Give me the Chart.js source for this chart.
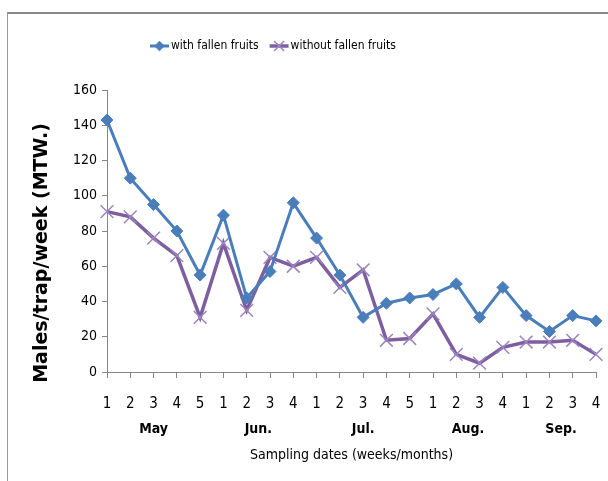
<!DOCTYPE html>
<html>
<head>
<meta charset="utf-8">
<script src="https://cdn.jsdelivr.net/npm/chart.js@4.4.1/dist/chart.umd.min.js"></script>
<style>
  html, body { margin: 0; padding: 0; background: #fff; }
  #wrap { position: relative; width: 608px; height: 481px; }
  #frame { position: absolute; left: 7px; top: 12px; right: 0; bottom: 0;
           border-top: 2px solid #878787; border-left: 1px solid #9a9a9a; pointer-events: none; }
  canvas { display: block; }
</style>
</head>
<body>
<div id="wrap">
  <canvas id="chart" width="608" height="481"></canvas>
  <div id="frame"></div>
</div>
<script>
// Week number of each sampling date
const weeks = ['1','2','3','4','5','1','2','3','4','1','2','3','4','5','1','2','3','4','1','2','3','4'];
// Months and the index range of their weeks
const months = ['May', 'Jun.', 'Jul.', 'Aug.', 'Sep.'];
const monthSpans = [[0, 4], [5, 8], [9, 13], [14, 17], [18, 21]];
// Males/trap/week
const withFallen    = [143, 110, 95, 80, 55, 89, 42, 57, 96, 76, 55, 31, 39, 42, 44, 50, 31, 48, 32, 23, 32, 29];
const withoutFallen = [91, 88, 76, 66, 31, 73, 35, 65, 60, 65, 48, 58, 18, 19, 33, 10, 5, 14, 17, 17, 18, 10];
const yTicks = { min: 0, max: 160, step: 20 };
const yTitle = 'Males/trap/week (MTW.)';

const NARROW = '"Liberation Sans Narrow", "DejaVu Sans Condensed", "Arial Narrow", sans-serif';
const AXIS = '#868686';

// Month names centred under their group of weeks, and the vertical axis title
const axisText = {
  id: 'axisText',
  afterDraw(chart) {
    const xs = chart.scales.x;
    const ys = chart.scales.y;
    const ctx = chart.ctx;
    ctx.save();
    ctx.font = 'bold 14px ' + NARROW;
    ctx.fillStyle = '#000';
    ctx.textAlign = 'center';
    ctx.textBaseline = 'middle';
    months.forEach((m, i) => {
      const [a, b] = monthSpans[i];
      const px = (xs.getPixelForValue(a) + xs.getPixelForValue(b)) / 2;
      ctx.fillText(m, px, xs.top + 57);
    });
    ctx.translate(42, (ys.top + ys.bottom) / 2 + 22);
    ctx.rotate(-Math.PI / 2);
    ctx.font = 'bold 19px "DejaVu Sans", Verdana, sans-serif';
    ctx.fillText(yTitle, 0, 0);
    ctx.restore();
  }
};

// Legend row: line sample with the series marker, then the series name
const lineLegend = {
  id: 'lineLegend',
  afterDraw(chart) {
    const ctx = chart.ctx;
    const y = 46;
    let x = 150;
    const sample = 19;
    ctx.save();
    ctx.font = '12px ' + NARROW;
    ctx.textBaseline = 'middle';
    ctx.textAlign = 'left';
    chart.data.datasets.forEach(ds => {
      ctx.strokeStyle = ds.borderColor;
      ctx.lineWidth = ds.borderWidth;
      ctx.beginPath();
      ctx.moveTo(x, y);
      ctx.lineTo(x + sample, y);
      ctx.stroke();
      ctx.fillStyle = ds.pointBackgroundColor || ds.borderColor;
      ctx.strokeStyle = ds.pointBorderColor;
      ctx.lineWidth = ds.pointBorderWidth;
      Chart.helpers.drawPoint(ctx, {
        pointStyle: ds.pointStyle, radius: ds.pointRadius * 0.8,
        borderWidth: ds.pointBorderWidth, rotation: 0
      }, x + sample / 2, y);
      ctx.fillStyle = '#000';
      ctx.fillText(ds.label, x + sample + 2, y);
      x += sample + 2 + ctx.measureText(ds.label).width + 11;
    });
    ctx.restore();
  }
};

new Chart(document.getElementById('chart'), {
  type: 'line',
  data: {
    labels: weeks,
    datasets: [
      {
        label: 'with fallen fruits',
        data: withFallen,
        borderColor: '#4A7EBB',
        backgroundColor: '#4A7EBB',
        borderWidth: 3,
        pointStyle: 'rectRot',
        pointRadius: 6,
        pointBackgroundColor: '#4A7EBB',
        pointBorderColor: '#4A7EBB',
        pointBorderWidth: 1,
        tension: 0
      },
      {
        label: 'without fallen fruits',
        data: withoutFallen,
        borderColor: '#7D5FA0',
        backgroundColor: '#7D5FA0',
        borderWidth: 3.5,
        pointStyle: 'crossRot',
        pointRadius: 9,
        pointBorderColor: '#9B84C0',
        pointBorderWidth: 1.5,
        tension: 0
      }
    ]
  },
  options: {
    responsive: false,
    devicePixelRatio: 1,
    animation: false,
    layout: { padding: { top: 90, right: 12, bottom: 0, left: 0 } },
    plugins: {
      legend: { display: false },
      tooltip: { enabled: false }
    },
    scales: {
      x: {
        type: 'category',
        offset: false,
        grid: { display: true, drawOnChartArea: false, drawTicks: true, tickLength: 6, color: AXIS, offset: false },
        border: { display: true, color: AXIS, width: 1 },
        ticks: { color: '#000', font: { family: NARROW, size: 15 }, padding: 17, maxRotation: 0, autoSkip: false },
        title: {
          display: true, text: 'Sampling dates (weeks/months)', color: '#000',
          font: { family: NARROW, size: 14 }, padding: { top: 0, bottom: 17 }
        },
        afterFit(s) { s.height = 109; s.paddingLeft = 0; s.paddingRight = 0; }
      },
      y: {
        min: yTicks.min,
        max: yTicks.max,
        grid: { display: true, drawOnChartArea: false, drawTicks: true, tickLength: 5, color: AXIS },
        border: { display: true, color: AXIS, width: 1 },
        ticks: { stepSize: yTicks.step, color: '#000', font: { family: NARROW, size: 14 }, padding: 5 },
        afterFit(s) { s.width = 107; }
      }
    }
  },
  plugins: [axisText, lineLegend]
});
</script>
</body>
</html>
